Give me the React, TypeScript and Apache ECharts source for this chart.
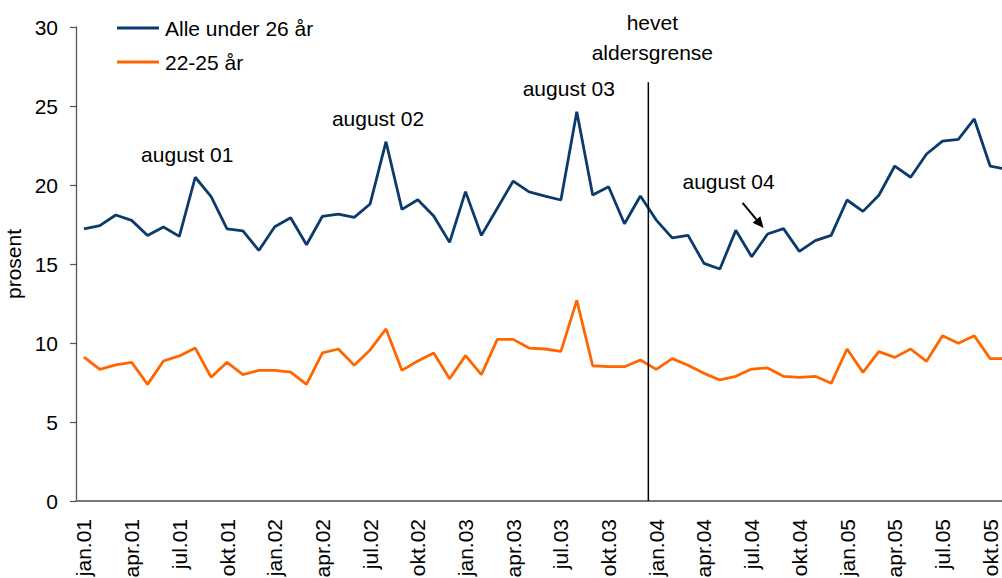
import React, { useEffect, useRef } from "react";
import * as echarts from "echarts";

const monthNames = ["jan", "feb", "mar", "apr", "mai", "jun", "jul", "aug", "sep", "okt", "nov", "des"];
const yearNames = ["01", "02", "03", "04", "05"];
const categories: string[] = [];
yearNames.forEach((y) => monthNames.forEach((m) => categories.push(m + "." + y)));
const months = categories.slice(0, 59);

const allUnder26 = [
  17.23, 17.43, 18.1, 17.76, 16.81, 17.34, 16.75, 20.49, 19.26, 17.23, 17.09, 15.86,
  17.36, 17.93, 16.22, 18.02, 18.16, 17.95, 18.8, 22.74, 18.46, 19.07, 18.04, 16.37,
  19.58, 16.81, 18.53, 20.25, 19.56, 19.3, 19.05, 24.64, 19.37, 19.89, 17.55, 19.3,
  17.78, 16.65, 16.81, 15.04, 14.68, 17.13, 15.46, 16.9, 17.24, 15.8, 16.48, 16.81,
  19.05, 18.33, 19.35, 21.2, 20.49, 21.96, 22.78, 22.89, 24.18, 21.2, 21.0,
];
const age22to25 = [
  9.11, 8.33, 8.61, 8.78, 7.38, 8.86, 9.18, 9.68, 7.83, 8.78, 8.0, 8.27,
  8.27, 8.16, 7.38, 9.37, 9.62, 8.59, 9.56, 10.89, 8.27, 8.86, 9.37, 7.74,
  9.2, 8.0, 10.23, 10.23, 9.68, 9.62, 9.47, 12.7, 8.56, 8.5, 8.5, 8.92,
  8.33, 9.01, 8.59, 8.08, 7.66, 7.89, 8.35, 8.42, 7.89, 7.83, 7.89, 7.45,
  9.62, 8.14, 9.45, 9.09, 9.62, 8.84, 10.46, 9.98, 10.46, 9.01, 9.01,
];
const seriesNames = ["Alle under 26 år", "22-25 år"];
const yTicks = { min: 0, max: 30, interval: 5 };

const peakLabels = ["august 01", "august 02", "august 03"];
const peakIndex = [7, 19, 31];
const aug04Label = "august 04";
const aug04Index = 43;
const limitLabel = "hevet\naldersgrense";
const limitIndex = 36;
const limitTop = 26.5;

const FONT = '"Liberation Sans", Arial, Helvetica, sans-serif';
const FS = 21;

export default function App() {
  const ref = useRef<HTMLDivElement>(null);
  useEffect(() => {
    if (!ref.current) return;
    const chart = echarts.init(ref.current, undefined, { renderer: "svg" });
    chart.setOption({
      animation: false,
      backgroundColor: "#ffffff",
      textStyle: { fontFamily: FONT, color: "#000" },
      grid: { left: 76, top: 27, width: 938, height: 474, containLabel: false, outerBoundsMode: "none" },
      legend: {
        orient: "vertical",
        left: 112,
        top: 12,
        icon: "rect",
        itemWidth: 42,
        itemHeight: 3,
        itemGap: 12,
        textStyle: { fontFamily: FONT, fontSize: FS, color: "#000", lineHeight: 22, padding: [0, 0, 0, 1] },
        data: seriesNames,
      },
      xAxis: {
        type: "category",
        data: months,
        boundaryGap: true,
        axisLine: { lineStyle: { color: "#777", width: 2 } },
        axisTick: { interval: 2, length: 6, lineStyle: { color: "#555", width: 1.2 } },
        axisLabel: { interval: 2, rotate: 90, margin: 18, fontSize: FS, color: "#000", fontFamily: FONT },
        splitLine: { show: false },
      },
      yAxis: {
        type: "value",
        min: yTicks.min,
        max: yTicks.max,
        interval: yTicks.interval,
        name: "prosent",
        nameLocation: "middle",
        nameGap: 49,
        nameRotate: 90,
        nameTextStyle: { fontSize: FS, color: "#000", fontFamily: FONT },
        axisLine: { show: true, lineStyle: { color: "#555", width: 1.3 } },
        axisTick: { show: true, length: 6, lineStyle: { color: "#555", width: 1.2 } },
        axisLabel: { margin: 18, fontSize: FS, color: "#000", fontFamily: FONT },
        splitLine: { show: false },
      },
      series: [
        {
          name: seriesNames[0],
          type: "line",
          data: allUnder26,
          symbol: "none",
          lineStyle: { color: "#0b3b6c", width: 2.8 },
          itemStyle: { color: "#0b3b6c" },
        },
        {
          name: seriesNames[1],
          type: "line",
          data: age22to25,
          symbol: "none",
          lineStyle: { color: "#ff6600", width: 2.8 },
          itemStyle: { color: "#ff6600" },
        },
      ],
    });

    const px = (i: number, v: number) => chart.convertToPixel({ gridIndex: 0 }, [i, v]) as number[];
    const graphics: any[] = [];
    const xl = (px(limitIndex - 1, 0)[0] + px(limitIndex, 0)[0]) / 2;
    const yTop = px(0, limitTop)[1];
    const yBot = px(0, 0)[1];
    graphics.push({
      type: "line",
      shape: { x1: xl, y1: yTop, x2: xl, y2: yBot },
      style: { stroke: "#000", lineWidth: 1.5 },
      z: 10,
    });
    graphics.push({
      type: "text",
      x: xl + 4,
      y: yTop - 45,
      style: { text: limitLabel, font: `${FS}px ${FONT}`, fill: "#000", align: "center", verticalAlign: "middle", lineHeight: 30 },
      z: 10,
    });
    peakLabels.forEach((t, k) => {
      const p = px(peakIndex[k], allUnder26[peakIndex[k]]);
      graphics.push({
        type: "text",
        x: p[0] - 8,
        y: p[1] - 23,
        style: { text: t, font: `${FS}px ${FONT}`, fill: "#000", align: "center", verticalAlign: "middle" },
        z: 10,
      });
    });
    const a = px(aug04Index, allUnder26[aug04Index]);
    graphics.push({
      type: "text",
      x: a[0] - 39,
      y: a[1] - 52,
      style: { text: aug04Label, font: `${FS}px ${FONT}`, fill: "#000", align: "center", verticalAlign: "middle" },
      z: 10,
    });
    const tail = [a[0] - 25, a[1] - 31];
    const tip = [a[0] - 4, a[1] - 6];
    const dx = tip[0] - tail[0];
    const dy = tip[1] - tail[1];
    const len = Math.sqrt(dx * dx + dy * dy);
    const ux = dx / len;
    const uy = dy / len;
    const base = [tip[0] - 11 * ux, tip[1] - 11 * uy];
    const nx = -uy;
    const ny = ux;
    graphics.push({
      type: "line",
      shape: { x1: tail[0], y1: tail[1], x2: base[0], y2: base[1] },
      style: { stroke: "#000", lineWidth: 2 },
      z: 10,
    });
    graphics.push({
      type: "polygon",
      shape: {
        points: [
          [tip[0], tip[1]],
          [base[0] + 5 * nx, base[1] + 5 * ny],
          [base[0] - 5 * nx, base[1] - 5 * ny],
        ],
      },
      style: { fill: "#000" },
      z: 10,
    });
    chart.setOption({ graphic: graphics });

    return () => chart.dispose();
  }, []);

  return (
    <div
      ref={ref}
      style={{ position: "absolute", left: 0, top: 0, width: 1002, height: 578, background: "#fff" }}
    />
  );
}
